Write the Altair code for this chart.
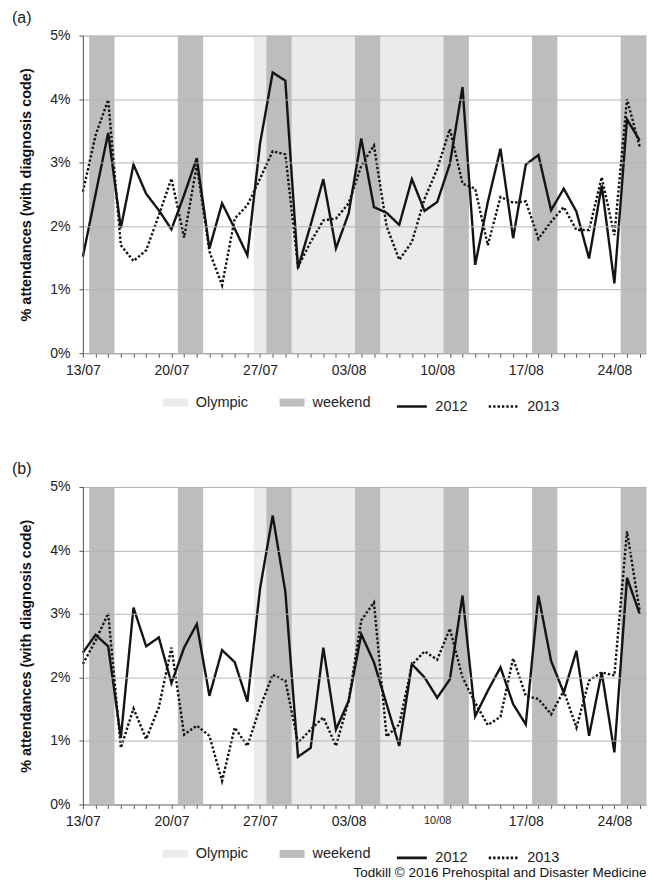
import json
import altair as alt
import pandas as pd

FONT = "Liberation Sans"

# ---- data -------------------------------------------------------------
start = pd.Timestamp("2012-07-13")
day_labels = [(start + pd.Timedelta(days=i)).strftime("%d/%m") for i in range(45)]

a_2012 = [1.52, 2.50, 3.47, 1.97, 2.97, 2.51, 2.25, 1.95, 2.49, 3.07,
          1.65, 2.36, 1.96, 1.54, 3.30, 4.42, 4.29, 1.34, 2.02, 2.74,
          1.65, 2.20, 3.38, 2.30, 2.21, 2.02, 2.74, 2.24, 2.38, 2.98,
          4.19, 1.39, 2.38, 3.22, 1.81, 2.97, 3.12, 2.25, 2.59, 2.23,
          1.49, 2.64, 1.10, 3.68, 3.35]
a_2013 = [2.54, 3.43, 3.99, 1.70, 1.45, 1.62, 2.17, 2.75, 1.82, 2.96,
          1.60, 1.07, 2.12, 2.33, 2.75, 3.18, 3.13, 1.36, 1.75, 2.09,
          2.12, 2.36, 2.95, 3.27, 2.00, 1.47, 1.75, 2.43, 2.90, 3.53,
          2.67, 2.59, 1.70, 2.46, 2.37, 2.39, 1.80, 2.07, 2.30, 1.94,
          1.94, 2.77, 1.86, 4.00, 3.25]
b_2012 = [2.39, 2.67, 2.49, 1.05, 3.10, 2.49, 2.63, 1.91, 2.47, 2.84,
          1.71, 2.43, 2.24, 1.62, 3.40, 4.55, 3.35, 0.75, 0.89, 2.47,
          1.18, 1.63, 2.68, 2.24, 1.58, 0.92, 2.21, 2.00, 1.68, 1.97,
          3.29, 1.39, 1.79, 2.16, 1.58, 1.26, 3.29, 2.26, 1.76, 2.42,
          1.08, 2.08, 0.82, 3.57, 3.00]
b_2013 = [2.21, 2.58, 3.01, 0.89, 1.51, 1.03, 1.53, 2.47, 1.10, 1.24,
          1.08, 0.37, 1.21, 0.92, 1.53, 2.04, 1.95, 0.97, 1.18, 1.37,
          0.92, 1.63, 2.90, 3.18, 1.07, 1.26, 2.20, 2.41, 2.28, 2.77,
          2.00, 1.60, 1.25, 1.38, 2.30, 1.71, 1.66, 1.42, 1.79, 1.21,
          1.95, 2.08, 2.03, 4.30, 3.05]

olympic_period = [("27/07", "12/08")]
weekends = [("14/07", "15/07"), ("21/07", "22/07"), ("28/07", "29/07"),
            ("04/08", "05/08"), ("11/08", "12/08"), ("18/08", "19/08"),
            ("25/08", "26/08")]

y_ticks = [0, 1, 2, 3, 4, 5]

# ---- tables -----------------------------------------------------------
band_rows = []
for s, e in olympic_period:
    band_rows.append({"x0": day_labels.index(s) - 0.5, "x1": day_labels.index(e) + 0.5, "band": "Olympic"})
for s, e in weekends:
    band_rows.append({"x0": day_labels.index(s) - 0.5, "x1": day_labels.index(e) + 0.5, "band": "weekend"})
bands_df = pd.DataFrame(band_rows)

W, H = 564, 318
label_expr = "datum.value % 7 === 0 ? " + json.dumps(day_labels) + "[datum.value] : ''"


def panel(v2012, v2013, tag, small_tick=None):
    n = len(v2012)
    lines_df = pd.DataFrame({
        "day": list(range(n)) * 2,
        "value": v2012 + v2013,
        "year": ["2012"] * n + ["2013"] * n,
    })
    if small_tick is None:
        lfs = 14
    else:
        lfs = {"condition": {"test": f"datum.value === {small_tick}", "value": 11}, "value": 14}
    xscale = alt.Scale(domain=[0, 44.5], nice=False, zero=False)
    xaxis = alt.Axis(values=list(range(n)), labelExpr=label_expr, title=None, grid=False,
                     tickSize=4, labelPadding=6, labelFontSize=lfs, labelOverlap=False,
                     labelFlush=False, domainColor="#555", tickColor="#555",
                     labelColor="#222", labelFont=FONT)
    yscale = alt.Scale(domain=[0, 5], nice=False)
    yaxis = alt.Axis(values=y_ticks, labelExpr="datum.value + '%'",
                     title="% attendances (with diagnosis code)", titleFontSize=14.5,
                     titleFontWeight="bold", titleColor="#111", titleFont=FONT,
                     titlePadding=16, grid=True, gridColor="#b5b5b5", gridWidth=1,
                     tickSize=4, labelPadding=9, labelFontSize=14, labelColor="#222",
                     labelFont=FONT, domainColor="#555", tickColor="#555", zindex=1)

    bands = alt.Chart(bands_df).mark_rect(strokeWidth=0).encode(
        x=alt.X("x0:Q", scale=xscale, axis=xaxis),
        x2="x1:Q",
        y=alt.Y(datum=0, type="quantitative", scale=yscale, axis=yaxis),
        y2=alt.Y2(datum=5),
        fill=alt.Fill("band:N",
                      scale=alt.Scale(domain=["Olympic", "weekend"], range=["#ebebeb", "#bdbdbd"]),
                      legend=alt.Legend(orient="none", legendX=80, legendY=H + 37,
                                        direction="horizontal", title=None,
                                        symbolType="M-1,-0.32H1V0.32H-1Z", symbolSize=625,
                                        symbolStrokeWidth=0, labelFontSize=14.5,
                                        labelFont=FONT, labelColor="#222", labelOffset=8,
                                        columnPadding=31)),
        order=alt.Order("band:N"),
    )
    lines = alt.Chart(lines_df).mark_line(color="#141414", strokeWidth=2.4).encode(
        x=alt.X("day:Q", scale=xscale, axis=xaxis),
        y=alt.Y("value:Q", scale=yscale, axis=yaxis),
        strokeDash=alt.StrokeDash("year:N",
                                  scale=alt.Scale(domain=["2012", "2013"], range=[[1, 0], [2.4, 2]]),
                                  legend=alt.Legend(orient="none", legendX=313, legendY=H + 37,
                                                    direction="horizontal", title=None,
                                                    symbolType="stroke", symbolSize=900,
                                                    symbolStrokeWidth=2.6,
                                                    symbolStrokeColor="#141414",
                                                    labelFontSize=14.5, labelFont=FONT,
                                                    labelColor="#222", labelOffset=7,
                                                    columnPadding=15)),
    )
    return alt.layer(bands, lines).properties(
        width=W, height=H,
        title=alt.TitleParams(tag, anchor="start", frame="group", dx=-71, fontSize=16,
                              fontWeight="normal", font=FONT, color="#222", offset=3),
    )


top = panel(a_2012, a_2013, "(a)")
bottom = panel(b_2012, b_2013, "(b)", small_tick=28)

chart = alt.vconcat(top, bottom, spacing=46).resolve_scale(
    fill="independent", strokeDash="independent"
).resolve_legend(
    fill="independent", strokeDash="independent"
).properties(
    title=alt.TitleParams("Todkill \u00a9 2016 Prehospital and Disaster Medicine",
                          orient="bottom", anchor="end", fontSize=13.5,
                          fontWeight="normal", font=FONT, color="#111", offset=1),
    padding={"left": 3, "top": 0, "right": 0, "bottom": 0},
).configure_view(stroke=None).configure(font=FONT)

chart.save("out.html", embed_options={"renderer": "svg", "actions": False})
